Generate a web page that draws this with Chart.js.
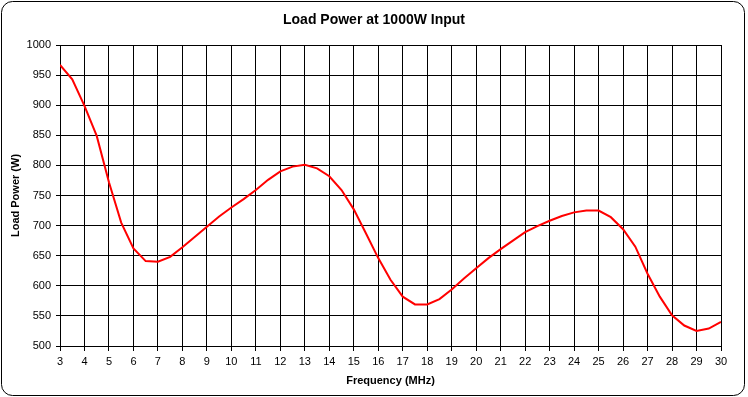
<!DOCTYPE html>
<html>
<head>
<meta charset="utf-8">
<script src="https://cdn.jsdelivr.net/npm/chart.js@4/dist/chart.umd.min.js"></script>
<style>
    body { margin: 0; background: #fff; }
    canvas { display: block; }
</style>
</head>
<body>
<canvas id="grafico" width="748" height="397"></canvas>
<script>
const frequencias = [
    3, 3.5, 4, 4.5, 5, 5.5, 6, 6.5, 7, 7.5, 8, 8.5, 9, 9.5, 10, 10.5,
    11, 11.5, 12, 12.5, 13, 13.5, 14, 14.5, 15, 15.5, 16, 16.5, 17, 17.5,
    18, 18.5, 19, 19.5, 20, 20.5, 21, 21.5, 22, 22.5, 23, 23.5, 24, 24.5,
    25, 25.5, 26, 26.5, 27, 27.5, 28, 28.5, 29, 29.5, 30
];
const potencias = [
    967, 943, 899, 849, 772, 705, 662, 641, 640, 648, 664, 681, 698, 715, 730, 744,
    759, 776, 790, 798, 801, 795, 782, 759, 727, 687, 646, 610, 582, 569,
    569, 578, 594, 612, 629, 646, 661, 675, 689, 699, 708, 716, 722, 725,
    725, 714, 694, 665, 620, 582, 551, 534, 525, 529, 540
];
const titulo = 'Load Power at 1000W Input';
const tituloX = 'Frequency (MHz)';
const tituloY = 'Load Power (W)';

const FONTE = "'Liberation Sans', Arial, sans-serif";

// moldura arredondada por baixo do gráfico
const moldura = {
    id: 'moldura',
    beforeDraw(chart) {
        const ctx = chart.ctx;
        ctx.save();
        ctx.fillStyle = '#fff';
        ctx.fillRect(0, 0, chart.width, chart.height);
        ctx.beginPath();
        ctx.roundRect(1.5, 1.5, 743, 394, 11);
        ctx.strokeStyle = '#000';
        ctx.lineWidth = 1;
        ctx.stroke();
        ctx.restore();
    }
};

const pontos = frequencias.map((f, i) => ({ x: f, y: potencias[i] }));

new Chart(document.getElementById('grafico'), {
    type: 'line',
    data: {
        datasets: [{
            data: pontos,
            borderColor: '#ff0000',
            borderWidth: 2,
            pointRadius: 0,
            tension: 0,
            fill: false
        }]
    },
    options: {
        responsive: false,
        animation: false,
        devicePixelRatio: 1,
        layout: { padding: 0 },
        plugins: {
            legend: { display: false },
            tooltip: { enabled: false },
            title: {
                display: true,
                text: titulo,
                color: '#000',
                font: { family: FONTE, size: 14, weight: 'bold' },
                padding: { top: 11.6, bottom: 16.6 }
            }
        },
        scales: {
            x: {
                type: 'linear',
                min: 3,
                max: 30,
                ticks: {
                    stepSize: 1,
                    color: '#000',
                    padding: 4,
                    maxRotation: 0,
                    font: { family: FONTE, size: 11 }
                },
                grid: { color: '#000', tickColor: '#000', tickLength: 5, lineWidth: 1 },
                border: { color: '#000' },
                title: {
                    display: true,
                    text: tituloX,
                    color: '#000',
                    font: { family: FONTE, size: 11, weight: 'bold' },
                    padding: { top: 0, bottom: 9 }
                },
                afterFit(scale) { scale.height = 51; }
            },
            y: {
                min: 500,
                max: 1000,
                ticks: {
                    stepSize: 50,
                    color: '#000',
                    padding: 5,
                    font: { family: FONTE, size: 11 },
                    callback: v => String(v)
                },
                grid: { color: '#000', tickColor: '#000', tickLength: 4, lineWidth: 1 },
                border: { color: '#000' },
                title: {
                    display: true,
                    text: tituloY,
                    color: '#000',
                    font: { family: FONTE, size: 11, weight: 'bold' },
                    padding: { top: 9.4, bottom: 0 }
                },
                afterFit(scale) { scale.width = 60; }
            },
            // eixo vazio à direita, só para reservar a margem
            margem: {
                position: 'right',
                display: true,
                ticks: { display: false },
                grid: { display: false },
                border: { display: false },
                afterFit(scale) { scale.width = 27; }
            }
        }
    },
    plugins: [moldura]
});
</script>
</body>
</html>
